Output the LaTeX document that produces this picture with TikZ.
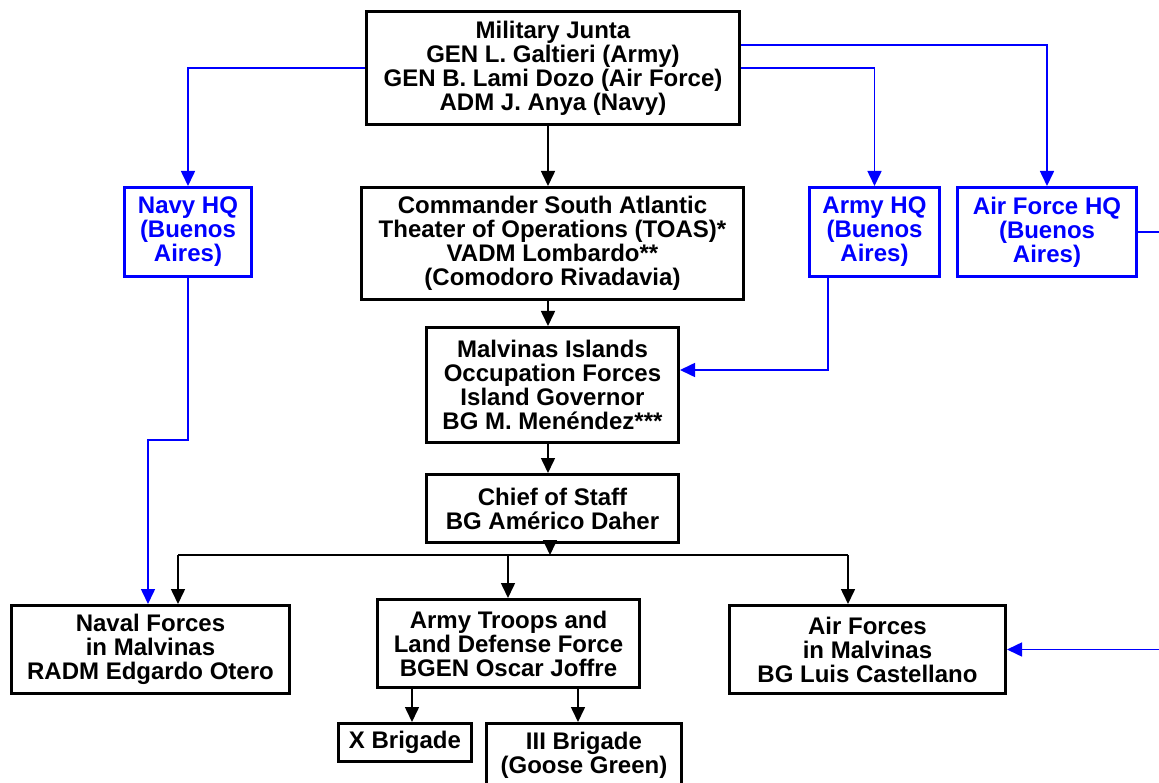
\documentclass[tikz,border=0pt]{standalone}
\usepackage{fontspec}
\setmainfont{Liberation Sans}
\usetikzlibrary{arrows.meta}
\begin{document}
\begin{tikzpicture}[x=1pt,y=-1pt]
  % Define styles for nodes
  \tikzstyle{unit} = [anchor=north west, draw, rectangle, line width=3pt,
  fill=white, align=center, inner sep=2pt,
  font=\fontsize{24}{24}\selectfont\bfseries]
  \tikzstyle{hq} = [unit, draw=blue, text=blue]
  \tikzstyle{link} = [line width=1.6pt, -{Triangle[length=15pt,width=14pt]}]
  \tikzstyle{bluelink} = [link, blue]

  \useasboundingbox (0,0) rectangle (1159,783);

  % Top of the chain
  \node[unit, minimum width=373, minimum height=113] (junta) at (365,10)
  {Military Junta\\GEN L. Galtieri (Army)\\GEN B. Lami Dozo (Air Force)\\ADM J. Anya (Navy)};

  % Headquarters in Buenos Aires
  \node[hq, minimum width=127, minimum height=89] (navyhq) at (123,186) {Navy HQ\\(Buenos\\Aires)};
  \node[hq, minimum width=130, minimum height=89] (armyhq) at (808,186) {Army HQ\\(Buenos\\Aires)};
  \node[hq, minimum width=179, minimum height=89] (afhq) at (956,186) {Air Force HQ\\(Buenos\\Aires)};

  % Chain of command
  \node[unit, minimum width=382, minimum height=112] (toas) at (360,186)
  {Commander South Atlantic\\Theater of Operations (TOAS)*\\VADM Lombardo**\\(Comodoro Rivadavia)};
  \node[unit, minimum width=252, minimum height=115] (malvinas) at (425,326)
  {Malvinas Islands\\Occupation Forces\\Island Governor\\BG M. Men\'endez***};
  \node[unit, minimum width=252, minimum height=68] (staff) at (425,473)
  {Chief of Staff\\BG Am\'erico Daher};

  % Forces on the islands
  \node[unit, minimum width=278, minimum height=88] (naval) at (10,604)
  {Naval Forces\\in Malvinas\\RADM Edgardo Otero};
  \node[unit, minimum width=262, minimum height=88] (army) at (376,598)
  {Army Troops and\\Land Defense Force\\BGEN Oscar Joffre};
  \node[unit, minimum width=276, minimum height=88] (air) at (728,604)
  {Air Forces\\in Malvinas\\BG Luis Castellano};
  \node[unit, minimum width=133, minimum height=38] (xbrig) at (337,722) {X Brigade};
  \node[unit, minimum width=195, minimum height=64] (iiibrig) at (485,722) {III Brigade\\(Goose Green)};

  % Turning points
  \coordinate (navyturn) at (148,440);
  \coordinate (armyturn) at (828,370);
  \coordinate (afturn) at (1180,300);
  \coordinate (busl) at (178,555);
  \coordinate (busm) at (508,555);
  \coordinate (busr) at (848,555);

  % Blue connections
  \draw[bluelink] (junta.west) -| (navyhq.north);
  \draw[bluelink] (junta.east) -| (armyhq.north);
  \draw[bluelink] (junta.east |- 0,45) -| (afhq.north);
  \draw[bluelink] (navyhq.south) |- (navyturn) -- (navyturn |- naval.north);
  \draw[bluelink] (armyhq.south -| armyturn) -- (armyturn) -- (malvinas.east |- armyturn);
  \draw[bluelink] (afhq.east) -| (afturn) |- (air.east);

  % Black connections
  \draw[link] (junta.south -| 548,0) -- (toas.north -| 548,0);
  \draw[link] (toas.south -| 548,0) -- (malvinas.north -| 548,0);
  \draw[link] (malvinas.south -| 548,0) -- (staff.north -| 548,0);
  \draw[link] (staff.south -| 550,0) -- (busm -| 550,0);
  \draw[line width=1.6pt] (busl) -- (busr);
  \draw[link] (busl) -- (busl |- naval.north);
  \draw[link] (busm) -- (busm |- army.north);
  \draw[link] (busr) -- (busr |- air.north);
  \draw[link] (army.south -| 412,0) -- (xbrig.north -| 412,0);
  \draw[link] (army.south -| 578,0) -- (iiibrig.north -| 578,0);
\end{tikzpicture}
\end{document}
